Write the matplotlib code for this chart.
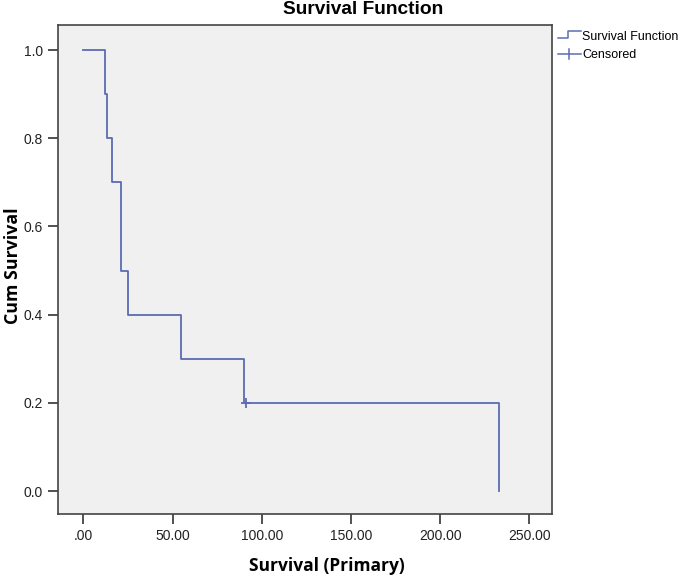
import matplotlib
matplotlib.use("Agg")
import matplotlib.pyplot as plt
import numpy as np
from matplotlib.lines import Line2D
from matplotlib.legend_handler import HandlerBase

# Data (time, event: 1=death, 0=censored)
times = [12, 13, 16, 21, 21, 25, 55, 90, 91, 233]
events = [1, 1, 1, 1, 1, 1, 1, 1, 0, 1]
xticks = [0, 50, 100, 150, 200, 250]
xticklabels = [".00", "50.00", "100.00", "150.00", "200.00", "250.00"]
yticks = [0.0, 0.2, 0.4, 0.6, 0.8, 1.0]

# Kaplan-Meier estimate
t_arr = np.array(times, dtype=float)
e_arr = np.array(events)
uniq = np.unique(t_arr)
n_risk = len(t_arr)
s = 1.0
step_x = [0.0]
step_y = [1.0]
cens_x, cens_y = [], []
for t in uniq:
    d = int(np.sum((t_arr == t) & (e_arr == 1)))
    c = int(np.sum((t_arr == t) & (e_arr == 0)))
    if d > 0:
        step_x += [t, t]
        step_y += [s, s * (1 - d / n_risk)]
        s = s * (1 - d / n_risk)
    if c > 0:
        cens_x.append(t)
        cens_y.append(s)
        step_x.append(t)
        step_y.append(s)
    n_risk -= d + c

color = "#5b6db3"
fig = plt.figure(figsize=(6.85, 5.78), dpi=100)
ax = fig.add_axes([58/685, 1-514/578, (552-58)/685, (514-25)/578])
ax.set_facecolor("#f0f0f0")
ax.plot(step_x, step_y, color=color, lw=1.3)
ax.plot(cens_x, cens_y, marker="+", ls="none", color=color, ms=7, mew=1.3)

ax.set_xlim(-14.2, 262.7)
ax.set_ylim(-0.052, 1.0567)
ax.set_xticks(xticks)
ax.set_xticklabels(xticklabels)
ax.set_yticks(yticks)
ax.set_yticklabels([f"{v:.1f}" for v in yticks])
for sp in ax.spines.values():
    sp.set_color("#444444")
    sp.set_linewidth(1.2)
ax.tick_params(direction="out", length=7, width=1.2, color="#333333",
               labelsize=10, labelcolor="#222222", pad=4)
for lab in ax.get_xticklabels() + ax.get_yticklabels():
    lab.set_fontfamily("Liberation Sans")

fig.text(327/685, 1-566/578, "Survival (Primary)", ha="center", va="center",
         fontsize=12.5, fontweight="bold", family="Open Sans")
fig.text(13/685, 1-266/578, "Cum Survival", ha="center", va="center",
         rotation=90, fontsize=12.8, fontweight="bold", family="Open Sans")
fig.text(363/685, 1-10/578, "Survival Function", ha="center", va="center",
         fontsize=13.8, fontweight="bold", family="Liberation Sans")


class StepHandler(HandlerBase):
    def create_artists(self, legend, orig_handle, xdescent, ydescent,
                       width, height, fontsize, trans):
        x0 = -xdescent
        y0 = -ydescent + height * 0.15
        y1 = -ydescent + height * 0.95
        xs = [x0, x0 + width * 0.45, x0 + width * 0.45, x0 + width]
        ys = [y0, y0, y1, y1]
        ln = Line2D(xs, ys, color=color, lw=1.1, transform=trans)
        return [ln]


class PlusHandler(HandlerBase):
    def create_artists(self, legend, orig_handle, xdescent, ydescent,
                       width, height, fontsize, trans):
        x0 = -xdescent
        ym = -ydescent + height / 2
        ln = Line2D([x0, x0 + width], [ym, ym], color=color, lw=1.1,
                    transform=trans)
        vt = Line2D([x0 + width / 2, x0 + width / 2],
                    [ym - height * 0.55, ym + height * 0.55], color=color,
                    lw=1.1, transform=trans)
        return [ln, vt]


h1 = Line2D([], [], color=color)
h2 = Line2D([], [], color=color)
leg = fig.legend([h1, h2], ["Survival Function", "Censored"],
                 loc="upper left", bbox_to_anchor=(555/685, 1-28/578),
                 frameon=False, handlelength=1.9, handletextpad=0.1,
                 labelspacing=0.55, borderaxespad=0, borderpad=0.2,
                 prop={"family": "Liberation Sans", "size": 9},
                 handler_map={h1: StepHandler(), h2: PlusHandler()})

fig.savefig("out.png", dpi=100, facecolor="white")
